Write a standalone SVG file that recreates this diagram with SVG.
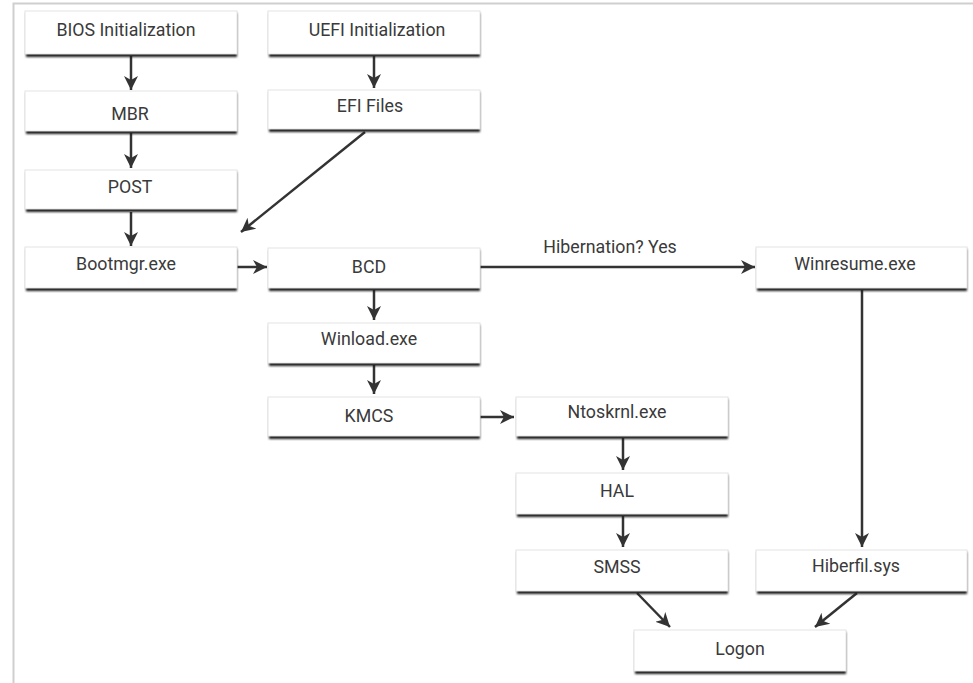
<svg xmlns="http://www.w3.org/2000/svg" width="973" height="683" viewBox="0 0 973 683">
<style>
.bx{fill:#fff;stroke:#e4e4e4;stroke-width:1}
.sh{fill:#1a1a1a;filter:url(#bl)}
.t{font-family:Roboto,"Liberation Sans",sans-serif;font-size:17.8px;fill:#3a3a3a;text-anchor:middle}
.c{stroke:#333;stroke-width:2.5;fill:none;marker-end:url(#ah)}
</style>
<defs>
<filter id="bl" x="-5%" y="-20%" width="110%" height="140%"><feGaussianBlur stdDeviation="0.9"/></filter>
<marker id="ah" markerUnits="userSpaceOnUse" markerWidth="16" markerHeight="16" refX="14" refY="7" orient="auto" viewBox="0 0 16 14">
<path d="M0,0 L14,7 L0,14 L4,7 z" fill="#333"/>
</marker>
</defs>
<rect x="0" y="0" width="973" height="683" fill="#fff"/>
<path d="M13.5,683 V3.5 H973" fill="none" stroke="#cfcfcf" stroke-width="2"/>
<g id="connectors">
<line class="c" x1="131" y1="56" x2="131" y2="90"/>
<line class="c" x1="374" y1="56" x2="374" y2="88"/>
<line class="c" x1="131" y1="133" x2="131" y2="168"/>
<line class="c" x1="131" y1="212" x2="131" y2="246"/>
<line class="c" x1="365" y1="132" x2="241" y2="232"/>
<line class="c" x1="237" y1="267" x2="267" y2="267"/>
<line class="c" x1="480" y1="267" x2="755" y2="267"/>
<line class="c" x1="374" y1="290" x2="374" y2="320"/>
<line class="c" x1="374" y1="365" x2="374" y2="394"/>
<line class="c" x1="480" y1="417" x2="514" y2="417"/>
<line class="c" x1="623" y1="438" x2="623" y2="470"/>
<line class="c" x1="623" y1="516" x2="623" y2="547"/>
<line class="c" x1="862" y1="290" x2="862" y2="547"/>
<line class="c" x1="637" y1="593" x2="670" y2="627"/>
<line class="c" x1="857" y1="593" x2="815" y2="627"/>
<text class="t" x="610" y="253">Hibernation? Yes</text>
</g>
<g id="bios"><rect class="sh" x="26" y="13" width="211" height="44"/><rect class="bx" x="25" y="11" width="212" height="43"/><text class="t" x="126" y="36">BIOS Initialization</text></g>
<g id="uefi"><rect class="sh" x="269" y="13" width="211" height="44"/><rect class="bx" x="268" y="11" width="212" height="43"/><text class="t" x="377" y="36">UEFI Initialization</text></g>
<g id="mbr"><rect class="sh" x="26" y="93" width="211" height="41"/><rect class="bx" x="25" y="91" width="212" height="40"/><text class="t" x="130" y="120">MBR</text></g>
<g id="efi"><rect class="sh" x="269" y="92" width="211" height="40"/><rect class="bx" x="268" y="90" width="212" height="39"/><text class="t" x="370" y="112">EFI Files</text></g>
<g id="post"><rect class="sh" x="26" y="172" width="211" height="40"/><rect class="bx" x="25" y="170" width="212" height="39"/><text class="t" x="130" y="193">POST</text></g>
<g id="bootmgr"><rect class="sh" x="26" y="249" width="211" height="42"/><rect class="bx" x="25" y="247" width="212" height="41"/><text class="t" x="126" y="270">Bootmgr.exe</text></g>
<g id="bcd"><rect class="sh" x="269" y="250" width="211" height="41"/><rect class="bx" x="268" y="248" width="212" height="40"/><text class="t" x="369" y="273">BCD</text></g>
<g id="winload"><rect class="sh" x="269" y="325" width="211" height="41"/><rect class="bx" x="268" y="323" width="212" height="40"/><text class="t" x="369" y="345">Winload.exe</text></g>
<g id="kmcs"><rect class="sh" x="269" y="399" width="211" height="40"/><rect class="bx" x="268" y="397" width="212" height="39"/><text class="t" x="369" y="422">KMCS</text></g>
<g id="winresume"><rect class="sh" x="757" y="249" width="210" height="42"/><rect class="bx" x="756" y="247" width="211" height="41"/><text class="t" x="855" y="270">Winresume.exe</text></g>
<g id="ntoskrnl"><rect class="sh" x="517" y="399" width="211" height="40"/><rect class="bx" x="516" y="397" width="212" height="39"/><text class="t" x="617" y="418">Ntoskrnl.exe</text></g>
<g id="hal"><rect class="sh" x="517" y="475" width="211" height="42"/><rect class="bx" x="516" y="473" width="212" height="41"/><text class="t" x="617" y="497">HAL</text></g>
<g id="smss"><rect class="sh" x="517" y="552" width="211" height="42"/><rect class="bx" x="516" y="550" width="212" height="41"/><text class="t" x="617" y="573">SMSS</text></g>
<g id="hiberfil"><rect class="sh" x="757" y="552" width="210" height="42"/><rect class="bx" x="756" y="550" width="211" height="41"/><text class="t" x="856" y="572">Hiberfil.sys</text></g>
<g id="logon"><rect class="sh" x="635" y="632" width="211" height="42"/><rect class="bx" x="634" y="630" width="212" height="41"/><text class="t" x="740" y="655">Logon</text></g>
</svg>
